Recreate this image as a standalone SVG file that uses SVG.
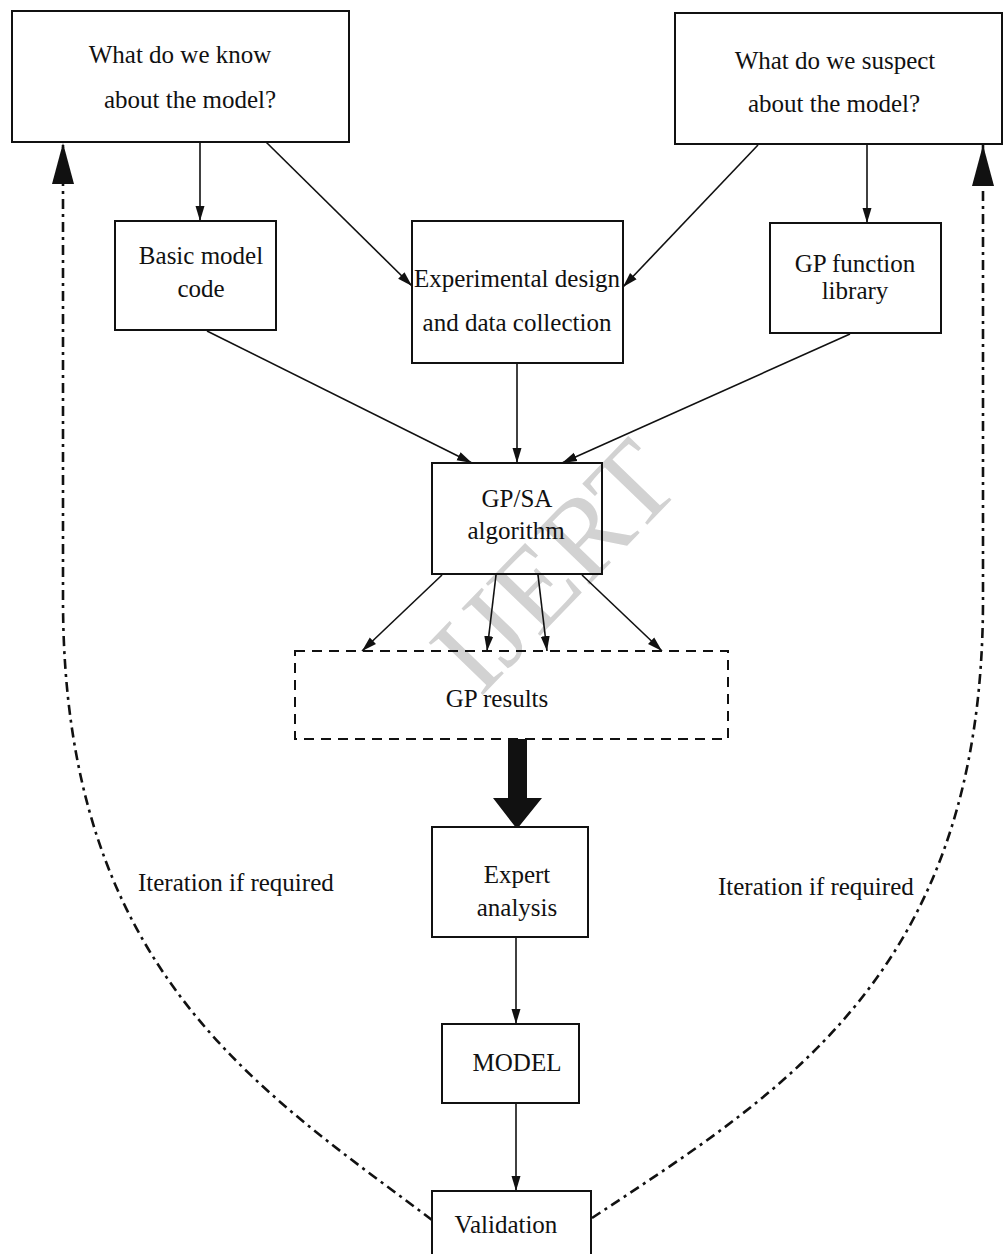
<svg xmlns="http://www.w3.org/2000/svg" width="1004" height="1254" viewBox="0 0 1004 1254">
<style>
.box{fill:#fff;stroke:#111;stroke-width:2}
.obox{fill:none;stroke:#111;stroke-width:2}
.dbox{fill:none;stroke:#111;stroke-width:2;stroke-dasharray:10 7}
.t{font-family:"Liberation Serif","Times New Roman",serif;font-size:25px;fill:#111;text-anchor:middle}
.ts{font-family:"Liberation Serif","Times New Roman",serif;font-size:25px;fill:#111}
.c{fill:none;stroke:#111;stroke-width:1.6}
.dd{fill:none;stroke:#111;stroke-width:2.6;stroke-dasharray:10 5 3 5}
.wm{font-family:"Liberation Serif","Times New Roman",serif;font-size:115px;fill:#d2d2d2}
</style>
<defs>
<marker id="ah" markerUnits="userSpaceOnUse" markerWidth="16" markerHeight="10" refX="15" refY="5" orient="auto">
<path d="M0,0.5 L15,5 L0,9.5 z" fill="#111"/>
</marker>
<marker id="big" markerUnits="userSpaceOnUse" markerWidth="42" markerHeight="22" refX="41" refY="11" orient="auto">
<path d="M0,0 L41,11 L0,22 z" fill="#111"/>
</marker>
</defs>
<rect width="1004" height="1254" fill="#fff"/>
<text class="wm" transform="translate(480,698) rotate(-46)">IJERT</text>
<g id="connectors">
<line class="c" x1="200" y1="142" x2="200" y2="221" marker-end="url(#ah)"/>
<line class="c" x1="266" y1="142" x2="412" y2="286" marker-end="url(#ah)"/>
<line class="c" x1="758" y1="145" x2="623" y2="287" marker-end="url(#ah)"/>
<line class="c" x1="867" y1="145" x2="867" y2="223" marker-end="url(#ah)"/>
<line class="c" x1="207" y1="331" x2="472" y2="463" marker-end="url(#ah)"/>
<line class="c" x1="517" y1="364" x2="517" y2="463" marker-end="url(#ah)"/>
<line class="c" x1="850" y1="334" x2="562" y2="463" marker-end="url(#ah)"/>
<line class="c" x1="442" y1="575" x2="362" y2="651" marker-end="url(#ah)"/>
<line class="c" x1="496" y1="575" x2="487" y2="651" marker-end="url(#ah)"/>
<line class="c" x1="538" y1="575" x2="547" y2="651" marker-end="url(#ah)"/>
<line class="c" x1="582" y1="575" x2="662" y2="651" marker-end="url(#ah)"/>
<path d="M508,739 H527 V798 H542 L517,829 L493,798 H508 z" fill="#111"/>
<line class="c" x1="516" y1="937" x2="516" y2="1024" marker-end="url(#ah)"/>
<line class="c" x1="516" y1="1103" x2="516" y2="1191" marker-end="url(#ah)"/>
<path class="dd" d="M432,1220 C260,1090 63,970 63,600 L63,143" marker-end="url(#big)"/>
<path class="dd" d="M592,1218 C786,1090 983,970 983,600 L983,145" marker-end="url(#big)"/>
</g>
<g id="know">
<rect class="box" x="12" y="11" width="337" height="131"/>
<text class="t" x="180" y="63">What do we know</text>
<text class="t" x="190" y="108">about the model?</text>
</g>
<g id="suspect">
<rect class="box" x="675" y="13" width="327" height="131"/>
<text class="t" x="835" y="69">What do we suspect</text>
<text class="t" x="834" y="112">about the model?</text>
</g>
<g id="basic">
<rect class="box" x="115" y="221" width="161" height="109"/>
<text class="t" x="201" y="264">Basic model</text>
<text class="t" x="201" y="297">code</text>
</g>
<g id="experimental">
<rect class="box" x="412" y="221" width="211" height="142"/>
<text class="t" x="517" y="287">Experimental design</text>
<text class="t" x="517" y="331">and data collection</text>
</g>
<g id="gpfunction">
<rect class="box" x="770" y="223" width="171" height="110"/>
<text class="t" x="855" y="272">GP function</text>
<text class="t" x="855" y="299">library</text>
</g>
<g id="gpsa">
<rect class="obox" x="432" y="463" width="170" height="111"/>
<text class="t" x="517" y="507">GP/SA</text>
<text class="t" x="516" y="539">algorithm</text>
</g>
<g id="gpresults">
<rect class="dbox" x="295" y="651" width="433" height="88"/>
<text class="t" x="497" y="707">GP results</text>
</g>
<g id="expert">
<rect class="box" x="432" y="827" width="156" height="110"/>
<text class="t" x="517" y="883">Expert</text>
<text class="t" x="517" y="916">analysis</text>
</g>
<g id="model">
<rect class="box" x="442" y="1024" width="137" height="79"/>
<text class="t" x="517" y="1071">MODEL</text>
</g>
<g id="validation">
<rect class="box" x="432" y="1191" width="159" height="80"/>
<text class="t" x="506" y="1233">Validation</text>
</g>
<g id="labels">
<text class="ts" x="138" y="891">Iteration if required</text>
<text class="ts" x="718" y="895">Iteration if required</text>
</g>
</svg>
